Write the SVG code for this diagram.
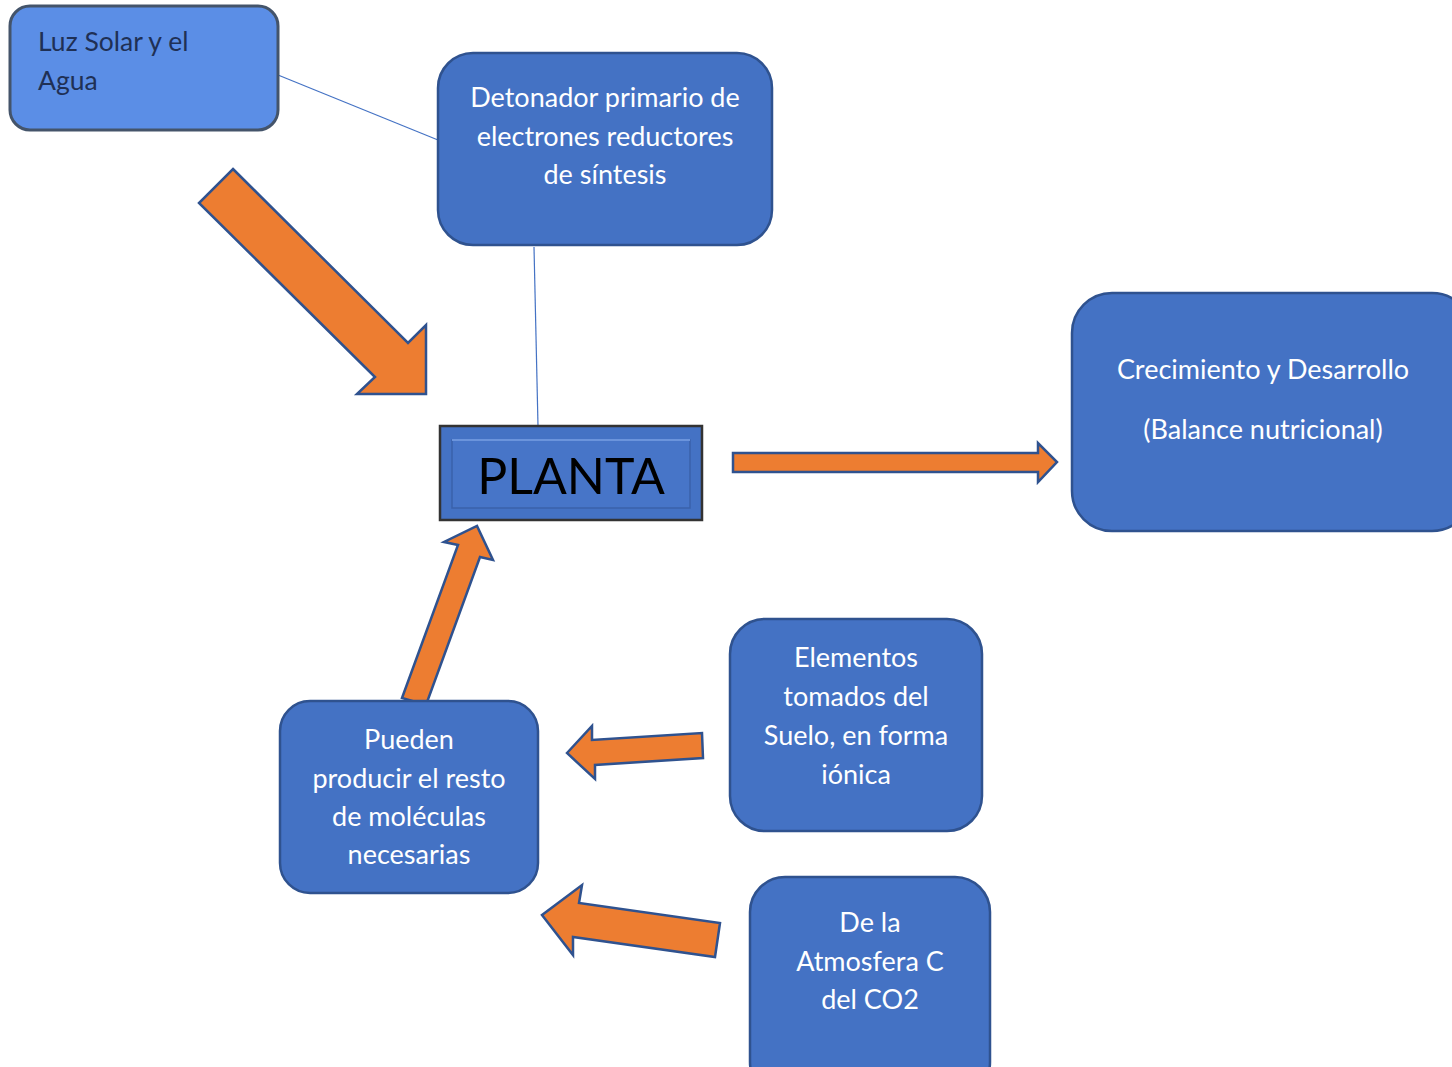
<svg xmlns="http://www.w3.org/2000/svg" width="1452" height="1067" viewBox="0 0 1452 1067">
<style>
.box{fill:#4472c4;stroke:#2f528f;stroke-width:2.5}
.arr{fill:#ed7d31;stroke:#2f528f;stroke-width:2.5;stroke-linejoin:miter}
.t{font-family:Lato,"Open Sans",sans-serif;font-size:27px;fill:#ffffff;text-anchor:middle}
.ln{stroke:#4472c4;stroke-width:1.2;fill:none}
</style>
<rect width="1452" height="1067" fill="#ffffff"/>
<g id="connectors">
<line class="ln" x1="278" y1="75" x2="438" y2="140"/>
<line class="ln" x1="534" y1="247" x2="538" y2="426"/>
<polygon class="arr" points="233,169 408,343 426,325 426,394 357,394 375,377 199,203"/>
<polygon class="arr" points="733,453 1038,453 1038,443 1057,462 1038,482 1038,472 733,472"/>
<polygon class="arr" points="402,698 458,545 444,542 477,526 493,560 480,557 426,705"/>
<polygon class="arr" points="567,753 592,726 592,740 702,733 703,758 595,765 595,779"/>
<polygon class="arr" points="542,915 582,885 579,903 720,923 715,957 573,937 573,955"/>
</g>
<g id="luz">
<rect x="10" y="6" width="268" height="124" rx="20" fill="#5b8ee6" stroke="#44546a" stroke-width="3"/>
<text x="38" y="51" font-family="Lato,'Open Sans',sans-serif" font-size="26.5" fill="#1f3055">Luz Solar y el</text>
<text x="38" y="90" font-family="Lato,'Open Sans',sans-serif" font-size="26.5" fill="#1f3055">Agua</text>
</g>
<g id="detonador">
<rect class="box" x="438" y="53" width="334" height="192" rx="35"/>
<text class="t" x="605" y="107">Detonador primario de</text>
<text class="t" x="605" y="146">electrones reductores</text>
<text class="t" x="605" y="184">de síntesis</text>
</g>
<g id="planta">
<rect x="440" y="426" width="262" height="94" fill="#4472c4" stroke="#333333" stroke-width="2.5"/>
<rect x="452" y="440" width="238" height="68" fill="#4775c8" stroke="#3a62aa" stroke-width="1.5"/>
<line x1="452" y1="440" x2="690" y2="440" stroke="#6b94dc" stroke-width="2"/>
<text x="571" y="494" font-family="Lato,'Open Sans',sans-serif" font-size="50" fill="#000000" text-anchor="middle">PLANTA</text>
</g>
<g id="crecimiento">
<rect class="box" x="1072" y="293" width="400" height="238" rx="40"/>
<text class="t" x="1263" y="379">Crecimiento y Desarrollo</text>
<text class="t" x="1263" y="439">(Balance nutricional)</text>
</g>
<g id="elementos">
<rect class="box" x="730" y="619" width="252" height="212" rx="35"/>
<text class="t" x="856" y="667">Elementos</text>
<text class="t" x="856" y="706">tomados del</text>
<text class="t" x="856" y="745">Suelo, en forma</text>
<text class="t" x="856" y="784">iónica</text>
</g>
<g id="pueden">
<rect class="box" x="280" y="701" width="258" height="192" rx="30"/>
<text class="t" x="409" y="749">Pueden</text>
<text class="t" x="409" y="788">producir el resto</text>
<text class="t" x="409" y="826">de moléculas</text>
<text class="t" x="409" y="864">necesarias</text>
</g>
<g id="atmosfera">
<rect class="box" x="750" y="877" width="240" height="220" rx="35"/>
<text class="t" x="870" y="932">De la</text>
<text class="t" x="870" y="971">Atmosfera C</text>
<text class="t" x="870" y="1009">del CO2</text>
</g>
</svg>
